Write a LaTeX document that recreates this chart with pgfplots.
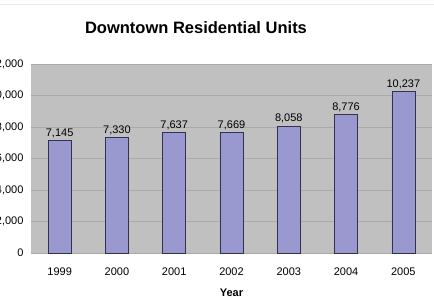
\documentclass[border=0pt]{standalone}
\usepackage{pgfplots}
\pgfplotsset{compat=1.18}
\usepackage{fontspec}
\setmainfont{Liberation Sans}
\definecolor{bgray}{RGB}{192,192,192}
\definecolor{gline}{RGB}{170,170,170}
\definecolor{barfill}{RGB}{153,153,208}
\definecolor{baredge}{RGB}{50,50,80}
\begin{document}
\begin{tikzpicture}[x=1pt,y=1pt]
\path[use as bounding box] (0,0) rectangle (434,298);
\draw[black!8,line width=1pt] (0,293) -- (434,293);
\node[font=\bfseries\fontsize{16.5}{19}\selectfont] at (196,270) {Downtown Residential Units};
\begin{axis}[
  at={(31pt,45pt)}, anchor=south west,
  width=401pt, height=189pt, scale only axis,
  xmin=-0.5, xmax=6.5, ymin=0, ymax=12000,
  xtick={0,...,6},
  xticklabels={1999,2000,2001,2002,2003,2004,2005},
  ytick={0,2000,...,12000},
  scaled y ticks=false,
  axis line style={draw=none},
  major tick length=0pt,
  ymajorgrids, grid style={gline, line width=0.6pt},
  axis background/.style={fill=bgray},
  tick label style={font=\fontsize{11}{13}\selectfont},
  /pgf/number format/assume math mode=true,
  /pgf/number format/1000 sep={,},
  xlabel={Year}, xlabel style={font=\bfseries\fontsize{11}{13}\selectfont, yshift=-7pt},
  nodes near coords,
  every node near coord/.append style={font=\fontsize{11}{13}\selectfont, /pgf/number format/1000 sep={,}, /pgf/number format/assume math mode=true, yshift=-1pt},
  xticklabel style={yshift=-11pt},
  yticklabel style={xshift=-4pt},
]
\addplot[ybar, bar width=23pt, fill=barfill, draw=baredge, line width=0.7pt] coordinates {
(0,7145) (1,7330) (2,7637) (3,7669) (4,8058) (5,8776) (6,10237)};
\end{axis}
\end{tikzpicture}
\end{document}
